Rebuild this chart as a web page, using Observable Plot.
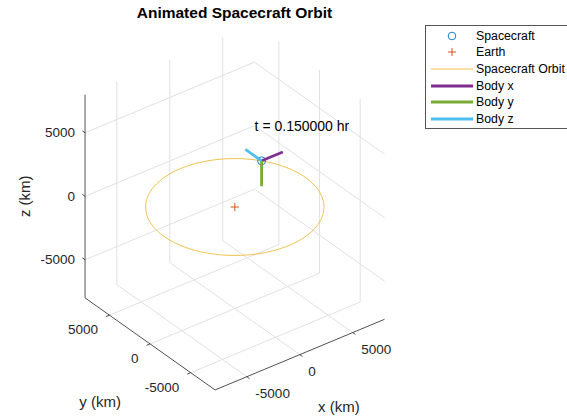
<!DOCTYPE html>
<html>
<head>
<meta charset="utf-8">
<script src="https://cdn.jsdelivr.net/npm/d3@7"></script>
<script src="https://cdn.jsdelivr.net/npm/@observablehq/plot@0.6"></script>
<style>
  body { margin: 0; background: #fff; }
  #fig { position: relative; width: 567px; height: 417px; overflow: hidden;
         font-family: "Liberation Sans", Arial, Helvetica, sans-serif; background: #fff; }
  #fig svg.plot { position: absolute; left: 0; top: 0; }
  #title { position: absolute; left: 0; top: 4px; width: 469px; text-align: center;
           font-weight: bold; font-size: 15.5px; line-height: 18px; color: #000; }
  #legend { position: absolute; left: 425px; top: 25px; width: 160px; height: 102px;
            border: 1px solid #555; background: #fff; }
  #legend .row { position: absolute; left: 0; height: 16px; width: 160px; }
  #legend .row svg { position: absolute; left: 4px; top: 0; }
  #legend .row span { position: absolute; left: 50px; top: 0; font-size: 12.3px; line-height: 16px; color: #000; white-space: nowrap; }
</style>
</head>
<body>
<div id="fig">
  <div id="title">Animated Spacecraft Orbit</div>
</div>
<script>
// ---- data (km, hours) ----
const xTicks = [-5000, 0, 5000];
const yTicks = [-5000, 0, 5000];
const zTicks = [-5000, 0, 5000];
const xLim = [-8000, 8000];
const yLim = [-8000, 8000];
const zLim = [-8000, 8000];

const orbitRadius = 6678;              // circular equatorial orbit
const earthPos = [0, 0, 0];
const spacecraftPos = [5470, 3830, 0]; // position at the current frame
const bodyX = [2000, 0, 0];            // body-frame axes, drawn from the spacecraft
const bodyY = [0, 0, -2000];
const bodyZ = [0, 2000, 0];
const timeHr = 0.15;

const seriesNames = ["Spacecraft", "Earth", "Spacecraft Orbit", "Body x", "Body y", "Body z"];
const seriesColors = ["#0072BD", "#D95319", "#EDB120", "#7E2F8E", "#77AC30", "#4DBEEE"];

// ---- orthographic 3-D view (azimuth about z, foreshortened floor) ----
const W = 567, H = 417;
const az = 37.5 * Math.PI / 180;
const floorTilt = 0.571;                 // vertical squash of the horizontal plane relative to z
const originPx = [234.3, 206.5];         // where (0,0,0) lands in the frame
const pxPerKm = {h: 0.01335, v: 0.0127};

const P = ([x, y, z]) => ({
  u: x * Math.cos(az) - y * Math.sin(az),
  v: z + floorTilt * (x * Math.sin(az) + y * Math.cos(az))
});
const seg = (a, b) => { const A = P(a), B = P(b); return {x1: A.u, y1: A.v, x2: B.u, y2: B.v}; };
const add = (a, b) => a.map((d, i) => d + b[i]);

const [x0, x1] = xLim, [y0, y1] = yLim, [z0, z1] = zLim;

// grid on the floor and the two back walls
const grid = [
  ...xTicks.flatMap(t => [seg([t, y0, z0], [t, y1, z0]), seg([t, y1, z0], [t, y1, z1])]),
  ...yTicks.flatMap(t => [seg([x0, t, z0], [x1, t, z0]), seg([x1, t, z0], [x1, t, z1])]),
  ...zTicks.flatMap(t => [seg([x0, y1, t], [x1, y1, t]), seg([x1, y1, t], [x1, y0, t])])
];
const axisLines = [
  seg([x0, y0, z0], [x1, y0, z0]),
  seg([x0, y0, z0], [x0, y1, z0]),
  seg([x0, y1, z0], [x0, y1, z1])
];
const tickLen = 330;
const tickMarks = [
  ...xTicks.map(t => seg([t, y0, z0], [t, y0 - tickLen, z0])),
  ...yTicks.map(t => seg([x0, t, z0], [x0 - tickLen, t, z0])),
  ...zTicks.map(t => seg([x0, y1, t], [x0, y1 + tickLen, t]))
];

const orbit = d3.range(0, 361, 2).map(a => {
  const th = a * Math.PI / 180;
  return P([orbitRadius * Math.cos(th), orbitRadius * Math.sin(th), 0]);
});

const bodyAxes = [bodyX, bodyY, bodyZ].map((v, i) => ({...seg(spacecraftPos, add(spacecraftPos, v)), color: seriesColors[3 + i]}));

const fmt = t => String(t);
const tickText = {fill: "#262626", fontSize: 13.5};

const chart = Plot.plot({
  width: W, height: H, margin: 0,
  style: {fontFamily: '"Liberation Sans", Arial, Helvetica, sans-serif', background: "transparent", overflow: "visible"},
  x: {domain: [-originPx[0] / pxPerKm.h, (W - originPx[0]) / pxPerKm.h], range: [0, W], axis: null},
  y: {domain: [originPx[1] / pxPerKm.v, (originPx[1] - H) / pxPerKm.v], range: [0, H], axis: null},
  marks: [
    Plot.link(grid, {x1: "x1", y1: "y1", x2: "x2", y2: "y2", stroke: "#e1e1e1", strokeWidth: 1}),
    Plot.link(axisLines, {x1: "x1", y1: "y1", x2: "x2", y2: "y2", stroke: "#262626", strokeWidth: 0.8}),
    Plot.link(tickMarks, {x1: "x1", y1: "y1", x2: "x2", y2: "y2", stroke: "#262626", strokeWidth: 0.8}),
    // tick labels
    Plot.text(xTicks, {x: t => P([t, y0, z0]).u, y: t => P([t, y0, z0]).v, text: fmt, textAnchor: "start", dx: 8.5, dy: 17, ...tickText}),
    Plot.text(yTicks, {x: t => P([x0, t, z0]).u, y: t => P([x0, t, z0]).v, text: fmt, textAnchor: "end", dx: -11.5, dy: 15, ...tickText}),
    Plot.text(zTicks, {x: t => P([x0, y1, t]).u, y: t => P([x0, y1, t]).v, text: fmt, textAnchor: "end", dx: -10, dy: 0, ...tickText}),
    // axis titles
    Plot.text(["x (km)"], {x: () => P([(x0 + x1) / 2, y0, z0]).u, y: () => P([(x0 + x1) / 2, y0, z0]).v, text: d => d, dx: 39, dy: 53, fill: "#262626", fontSize: 15}),
    Plot.text(["y (km)"], {x: () => P([x0, (y0 + y1) / 2, z0]).u, y: () => P([x0, (y0 + y1) / 2, z0]).v, text: d => d, dx: -50, dy: 58, fill: "#262626", fontSize: 15}),
    Plot.text(["z (km)"], {x: () => P([x0, y1, (z0 + z1) / 2]).u, y: () => P([x0, y1, (z0 + z1) / 2]).v, text: d => d, dx: -60, rotate: -90, fill: "#262626", fontSize: 15}),
    // orbit, spacecraft, Earth, body axes
    Plot.line(orbit, {x: "u", y: "v", stroke: seriesColors[2], strokeWidth: 0.8}),
    Plot.dot([spacecraftPos], {x: p => P(p).u, y: p => P(p).v, r: 4, stroke: seriesColors[0], strokeWidth: 0.9, fill: "none"}),
    Plot.dot([earthPos], {x: p => P(p).u, y: p => P(p).v, symbol: "plus", r: 2.8, stroke: seriesColors[1], strokeWidth: 1, fill: "none"}),
    Plot.link(bodyAxes, {x1: "x1", y1: "y1", x2: "x2", y2: "y2", stroke: "color", strokeWidth: 2.8, strokeLinecap: "butt"}),
    Plot.text([spacecraftPos], {x: p => P(add(p, [0, 0, 2700])).u, y: p => P(add(p, [0, 0, 2700])).v,
      text: () => `t = ${timeHr.toFixed(6)} hr`, textAnchor: "start", dx: -7, fill: "#000", fontSize: 14})
  ]
});
const fig = document.getElementById("fig");
fig.insertBefore(chart, fig.firstChild);

// legend
const legend = d3.select(fig).append("div").attr("id", "legend");
const kinds = ["circle", "plus", "line", "line", "line", "line"];
const widths = [0, 0, 0.8, 2.8, 2.8, 2.8];
seriesNames.forEach((name, i) => {
  const row = legend.append("div").attr("class", "row").style("top", `${1.5 + i * 16.67}px`);
  const s = row.append("svg").attr("width", 44).attr("height", 16);
  if (kinds[i] === "circle") {
    s.append("circle").attr("cx", 22).attr("cy", 8).attr("r", 3.8).attr("fill", "none").attr("stroke", seriesColors[i]).attr("stroke-width", 0.9);
  } else if (kinds[i] === "plus") {
    s.append("path").attr("d", "M18,8H26M22,4V12").attr("stroke", seriesColors[i]).attr("stroke-width", 1).attr("fill", "none");
  } else {
    s.append("line").attr("x1", 1).attr("x2", 43).attr("y1", 8).attr("y2", 8).attr("stroke", seriesColors[i]).attr("stroke-width", widths[i]);
  }
  row.append("span").text(name);
});
</script>
</body>
</html>
